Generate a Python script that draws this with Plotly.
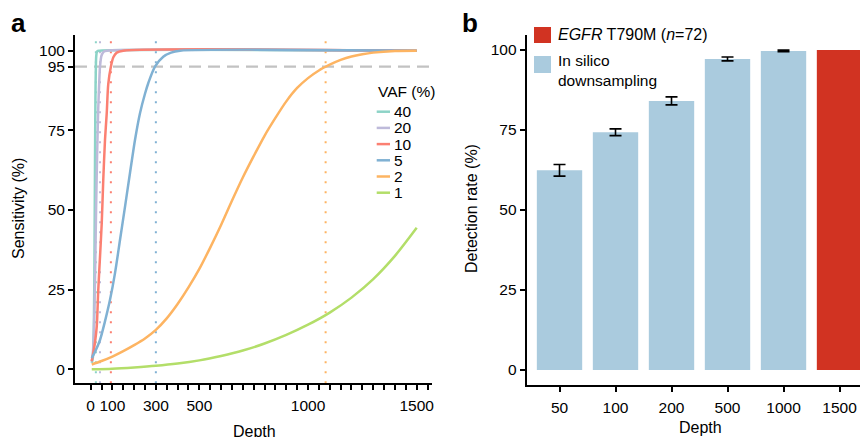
import plotly.graph_objects as go

# ---------------- data ----------------
vaf_levels = ["40", "20", "10", "5", "2", "1"]
vaf_colors = ["#8dd3c7", "#bebada", "#fb8072", "#80b1d3", "#fdb462", "#b3de69"]

depth_vaf40 = [5, 10, 15, 18, 20, 22, 24, 26, 30, 40, 1500]
sens_vaf40 = [2.0, 3.5, 15, 40, 65, 85, 95, 98.5, 99.8, 100, 100]

depth_vaf20 = [5, 10, 15, 20, 25, 30, 35, 40, 43, 50, 60, 75, 1500]
sens_vaf20 = [2.5, 5, 12, 28, 50, 68, 82, 91, 95, 98.5, 99.7, 100, 100]

depth_vaf10 = [5, 12, 20, 28, 35, 43, 51, 58, 66, 74, 81, 93, 105, 120, 150, 1500]
sens_vaf10 = [2.5, 5.1, 8.5, 13.4, 24.9, 35.3, 45.9, 59.4, 72, 80.4, 89.5, 95, 98, 99.4, 100, 100]

depth_vaf5 = [5, 20, 43, 65, 89, 112, 135, 158, 181, 204, 227, 250, 265, 296, 334, 370, 411, 1500]
sens_vaf5 = [3.5, 5.5, 9.2, 14.8, 21.8, 30.2, 40.6, 51, 61.6, 72, 80.4, 86.5, 89.8, 95, 98.1, 99.4, 100, 100]

depth_vaf2 = [5, 50, 100, 150, 200, 250, 300, 350, 400, 450, 500, 550, 600, 650, 700,
              750, 800, 850, 900, 950, 1000, 1050, 1100, 1150, 1200, 1250, 1300, 1400, 1500]
sens_vaf2 = [1.5, 2.6, 4.0, 5.7, 7.6, 9.7, 12.4, 16.0, 20.5, 25.7, 31.5, 38.2, 45.3, 52.9, 60.2,
             66.9, 73.3, 78.9, 84.1, 88.3, 91.4, 93.8, 95.6, 97.1, 98.2, 98.9, 99.4, 99.9, 100]

depth_vaf1 = [5, 100, 200, 300, 400, 500, 600, 700, 800, 900, 1000, 1100, 1200, 1300, 1400, 1500]
sens_vaf1 = [0, 0.2, 0.6, 1.1, 1.8, 2.8, 4.2, 5.9, 8.1, 10.8, 14.0, 17.8, 22.5, 28.3, 35.6, 44.4]

# depth at which each VAF level reaches 95 % sensitivity (VAF 40, 20, 10, 5, 2)
depth_95 = [24, 43, 93, 300, 1081]
sens_threshold = 95

depth_tick_labels = [0, 100, 300, 500, 1000, 1500]
sens_ticks = [0, 25, 50, 75, 95, 100]

bar_depths = ["50", "100", "200", "500", "1000"]
bar_rates = [62.4, 74.3, 84.1, 97.2, 99.7]
bar_err = [1.8, 1.05, 1.25, 0.6, 0.25]
egfr_depth = ["1500"]
egfr_rate = [100]
rate_ticks = [0, 25, 50, 75, 100]

# ---------------- styling ----------------
W, H = 860, 437
FONT = "Liberation Sans, Arial, Helvetica, sans-serif"
TICK_FS = 15.5
BAR_BLUE = "#aacbde"
BAR_RED = "#d13322"


def px(xp):
    return xp / W


def py(yp):
    return 1 - yp / H


fig = go.Figure()

curves = [(depth_vaf40, sens_vaf40), (depth_vaf20, sens_vaf20), (depth_vaf10, sens_vaf10),
          (depth_vaf5, sens_vaf5), (depth_vaf2, sens_vaf2), (depth_vaf1, sens_vaf1)]
for (d, s), lab, col in zip(curves, vaf_levels, vaf_colors):
    fig.add_trace(go.Scatter(x=d, y=s, mode="lines", name=lab,
                             line=dict(color=col, width=2.5, shape="spline", smoothing=0.8),
                             xaxis="x", yaxis="y", showlegend=False))

# vertical dotted 95 % depth lines
for d, col in zip(depth_95, vaf_colors):
    fig.add_shape(type="line", xref="x", yref="y domain", x0=d, x1=d, y0=0, y1=1,
                  line=dict(color=col, width=2, dash="2px,8px"), layer="below")
# horizontal dashed 95 % line
fig.add_shape(type="line", xref="x domain", yref="y", x0=0, x1=1,
              y0=sens_threshold, y1=sens_threshold,
              line=dict(color="#c2c2c2", width=2.2, dash="12px,7px"), layer="below")

# bars
fig.add_trace(go.Bar(x=bar_depths, y=bar_rates, name="In silico downsampling",
                     marker=dict(color=BAR_BLUE, line=dict(width=0)), width=0.81,
                     error_y=dict(type="data", array=bar_err, color="black",
                                  thickness=1.6, width=6),
                     xaxis="x2", yaxis="y2", showlegend=False))
fig.add_trace(go.Bar(x=egfr_depth, y=egfr_rate, name="EGFR T790M (n=72)",
                     marker=dict(color=BAR_RED, line=dict(width=0)), width=0.81,
                     xaxis="x2", yaxis="y2", showlegend=False))

axis_common = dict(showline=True, linecolor="black", linewidth=2, ticks="outside",
                   ticklen=5, tickwidth=1.8, tickcolor="black", showgrid=False,
                   zeroline=False, automargin=False,
                   tickfont=dict(family=FONT, size=TICK_FS, color="black"))

minor_ticks = list(range(0, 1551, 50))
fig.update_layout(
    template="none",
    width=W, height=H,
    margin=dict(l=0, r=0, t=0, b=0),
    paper_bgcolor="white", plot_bgcolor="white",
    barmode="overlay",
    font=dict(family=FONT, size=15, color="black"),
    xaxis=dict(domain=[px(75), px(431.7)], range=[-72, 1569], anchor="y",
               tickvals=minor_ticks,
               ticktext=[str(v) if v in depth_tick_labels else "" for v in minor_ticks],
               ticklabelstandoff=2, **axis_common),
    yaxis=dict(domain=[py(383.3), py(35)], range=[-4.39, 104.93], anchor="x",
               tickvals=sens_ticks, ticktext=[str(v) for v in sens_ticks], **axis_common),
    xaxis2=dict(domain=[px(526.7), 1], range=[-0.586, 5.366], anchor="y2",
                type="category", categoryorder="array",
                categoryarray=bar_depths + egfr_depth, ticklabelstandoff=2, **axis_common),
    yaxis2=dict(domain=[py(385), py(35)], range=[-4.69, 104.69], anchor="x2",
                tickvals=rate_ticks, **axis_common),
)


def ann(text, xp, yp, size=15.5, xanchor="left", yanchor="middle", **kw):
    fig.add_annotation(text=text, x=px(xp), y=py(yp), xref="paper", yref="paper",
                       showarrow=False, xanchor=xanchor, yanchor=yanchor,
                       font=dict(family=FONT, size=size, color="black"), **kw)


# panel letters
ann("<b>a</b>", 9, 22.6, size=26)
ann("<b>b</b>", 460, 22.6, size=26)

# axis titles
ann("Sensitivity (%)", 18, 209, size=16, xanchor="center", textangle=-90)
ann("Depth", 254, 431.7, size=16, xanchor="center")
ann("Detection rate (%)", 471, 209, size=16, xanchor="center", textangle=-90)
ann("Depth", 700.5, 427.3, size=16, xanchor="center")

# left legend (VAF)
ann("VAF (%)", 375.5, 91.7, size=15.5)
for i, (lab, col) in enumerate(zip(vaf_levels, vaf_colors)):
    yc = 111.7 + i * 16.2
    fig.add_shape(type="line", xref="paper", yref="paper", x0=px(376.7), x1=px(390),
                  y0=py(yc), y1=py(yc), line=dict(color=col, width=2.5))
    ann(lab, 392, yc, size=15.5)

# right legend
fig.add_shape(type="rect", xref="paper", yref="paper", x0=px(534), x1=px(551),
              y0=py(43), y1=py(27), fillcolor=BAR_RED, line=dict(width=0))
fig.add_shape(type="rect", xref="paper", yref="paper", x0=px(534), x1=px(551),
              y0=py(73), y1=py(56), fillcolor=BAR_BLUE, line=dict(width=0))
ann("<i>EGFR</i> T790M (<i>n</i>=72)", 556, 34.7, size=16)
ann("In silico<br>downsampling", 556, 70.5, size=15.5, align="left")

fig.write_html("out.html", config={"displayModeBar": False},
               post_script="document.body.style.margin='0';")
